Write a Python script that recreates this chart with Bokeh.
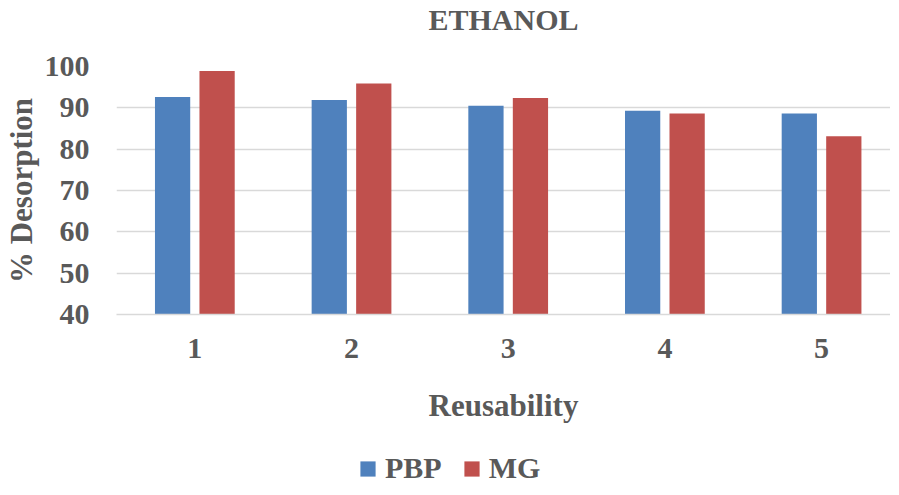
from bokeh.plotting import figure
from bokeh.layouts import column
from bokeh.models import Range1d, FixedTicker, ColumnDataSource, Legend, LegendItem, Title
from bokeh.transform import dodge
from bokeh.embed import file_html
from bokeh.resources import INLINE

cycles = [1, 2, 3, 4, 5]
pbp = [92.6, 91.9, 90.5, 89.3, 88.6]
mg = [98.9, 95.9, 92.4, 88.6, 83.1]
y_ticks = [40, 50, 60, 70, 80, 90, 100]
series_names = ["PBP", "MG"]
series_keys = ["pbp", "mg"]
series_colors = ["#4F81BD", "#C0504D"]
chart_title = "ETHANOL"

FONT = "Liberation Serif"
GREY = "#595959"

src = ColumnDataSource(dict(x=cycles, pbp=pbp, mg=mg))

p = figure(frame_width=774, frame_height=248, output_backend="svg", toolbar_location=None,
           x_range=Range1d(0.5, 5.44), y_range=Range1d(40, 100),
           min_border_left=0, min_border_right=0, min_border_top=0, min_border_bottom=112,
           title=None)

offsets = [-0.142, 0.142]
for key, col, off in zip(series_keys, series_colors, offsets):
    p.vbar(x=dodge('x', off), top=key, bottom=40, width=0.225,
           fill_color=col, line_color=None, source=src)

# spacer between title and plot area, then the title itself (outermost)
spacer = Title(text=" ", text_font=FONT, text_font_size="23px", standoff=4)
p.add_layout(spacer, "above")
title = Title(text=chart_title, text_font=FONT, text_font_size="30px",
              text_font_style="bold", text_color=GREY, align="center", standoff=0)
p.add_layout(title, "above")

p.xaxis.ticker = FixedTicker(ticks=cycles)
p.yaxis.ticker = FixedTicker(ticks=y_ticks)
for ax in (p.xaxis, p.yaxis):
    ax.major_label_text_font = FONT
    ax.major_label_text_font_size = "30px"
    ax.major_label_text_font_style = "bold"
    ax.major_label_text_color = GREY
    ax.axis_label_text_font = FONT
    ax.axis_label_text_font_size = "31px"
    ax.axis_label_text_font_style = "bold"
    ax.axis_label_text_color = GREY
    ax.major_tick_line_color = None
    ax.minor_tick_line_color = None

p.xaxis.axis_label = "Reusability"
p.yaxis.axis_label = "% Desorption"
p.xaxis.axis_line_color = "#D9D9D9"
p.xaxis.axis_line_width = 1.5
p.yaxis.axis_line_color = None
p.xaxis.major_label_standoff = 18
p.xaxis.axis_label_standoff = 27
p.yaxis.major_label_standoff = 21
p.yaxis.axis_label_standoff = 3

p.xgrid.grid_line_color = None
p.ygrid.grid_line_color = "#D9D9D9"
p.ygrid.grid_line_width = 1.5
p.outline_line_color = None

# Legend strip below the chart (its bars lie far outside the strip's ranges; only the legend shows)
p2 = figure(width=883, height=59, output_backend="svg", toolbar_location=None,
            x_range=Range1d(-20, -19), y_range=Range1d(-20, -19),
            min_border_left=0, min_border_right=0, min_border_top=0, min_border_bottom=0)
p2.axis.visible = False
p2.grid.grid_line_color = None
p2.outline_line_color = None
items = []
for name, key, col in zip(series_names, series_keys, series_colors):
    rr = p2.vbar(x='x', top=key, bottom=40, width=0.225, fill_color=col,
                 line_color=None, source=src)
    items.append(LegendItem(label=name, renderers=[rr]))

legend = Legend(items=items, orientation="horizontal", location=(242, 0),
                glyph_width=19, glyph_height=19, label_standoff=8, spacing=20,
                label_height=19,
                label_text_font=FONT, label_text_font_size="30px",
                label_text_font_style="bold", label_text_color=GREY,
                border_line_color=None, background_fill_alpha=0, margin=0, padding=0)
p2.add_layout(legend)

layout = column(p, p2, spacing=0)
open("out.html", "w").write(file_html(layout, INLINE))
